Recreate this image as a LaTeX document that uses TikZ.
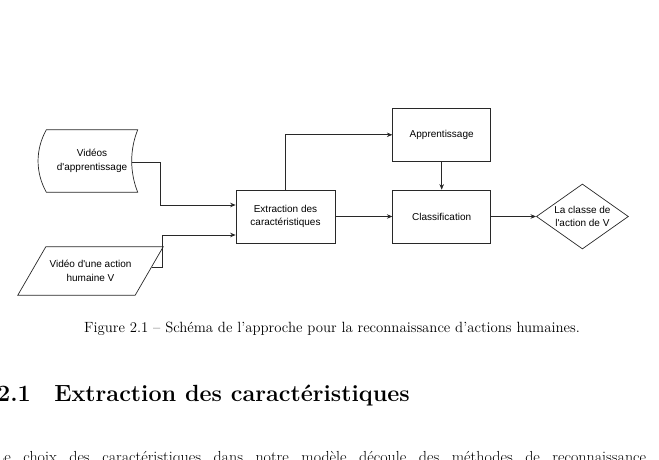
\documentclass[tikz,border=0pt]{standalone}
\usepackage{fontspec}
\newfontfamily\diagfont{Liberation Sans}
\usepackage{tikz}
\usetikzlibrary{positioning,arrows.meta,shapes,calc}
\definecolor{LineGray}{RGB}{40,40,40}

\begin{document}
\begin{tikzpicture}[x=1pt, y=1pt,
    box/.style={rectangle, draw=LineGray, line width=0.7pt, minimum width=98pt,
        minimum height=53pt, inner sep=0pt, align=center, font=\diagfont\fontsize{10}{13.5}\selectfont},
    txt/.style={inner sep=0pt, align=center, font=\diagfont\fontsize{10}{13.5}\selectfont},
    border/.style={draw=LineGray, line width=0.7pt},
    arr/.style={-{Stealth[length=5.5pt, width=4.5pt]}, line width=0.7pt, LineGray},
]
\clip (0,0) rectangle (659,460);

% inputs
\node[txt, minimum width=91pt, minimum height=62pt] (train) at (92,299) {Vidéos\\d'apprentissage};
\draw[border] (train.north west) -- (train.north east)
    .. controls +(-8,-20) and +(-8,20) .. (train.south east) -- (train.south west)
    .. controls +(-11,20) and +(-11,-20) .. (train.north west) -- cycle;
\node[txt, minimum width=117pt, minimum height=48pt] (test) at (90.5,189) {Vidéo d'une action\\humaine V};
\draw[border] ([xshift=14pt]test.north west) -- ([xshift=14pt]test.north east)
    -- ([xshift=-14pt]test.south east) -- ([xshift=-14pt]test.south west) -- cycle;
\coordinate (trainout) at (131.5,298);
\coordinate (testout) at ($(test.east)+(2.3,4)$);

% processing
\node[box, minimum width=99pt] (extract) at (285.5,243.5) {Extraction des\\caractéristiques};
\node[box, right=57pt of extract] (classif) {Classification};
\node[box, above=28pt of classif] (apprent) {Apprentissage};
\node[diamond, border, txt, aspect=1.4, minimum width=92pt, minimum height=65pt,
    right=45pt of classif] (result) {La classe de\\l'action de V};

\draw[arr] (trainout) -- ++(28.5,0) |- ([yshift=11.5pt]extract.west);
\draw[arr] (testout) -- ++(10.7,0) |- ([yshift=-18.5pt]extract.west);
\draw[arr] (extract.north) |- (apprent.west);
\draw[arr] (extract) -- (classif);
\draw[arr] (apprent) -- (classif);
\draw[arr] (classif) -- (result);

% caption and text
\node[anchor=base east, inner sep=0pt, font=\fontsize{14.8}{18}\selectfont] (caption) at (580,127)
    {Figure 2.1 -- Schéma de l'approche pour la reconnaissance d'actions humaines.};
\node[anchor=base west, inner sep=0pt, font=\fontsize{23.4}{28}\selectfont\bfseries] (heading) at (-3,58)
    {2.1\quad Extraction des caractéristiques};
\node[anchor=base west, inner sep=0pt, font=\fontsize{16}{19}\selectfont] (bodytext) at (-5,-3)
    {\makebox[651pt][s]{Le choix des caractéristiques dans notre modèle découle des méthodes de reconnaissance}};
\end{tikzpicture}
\end{document}
